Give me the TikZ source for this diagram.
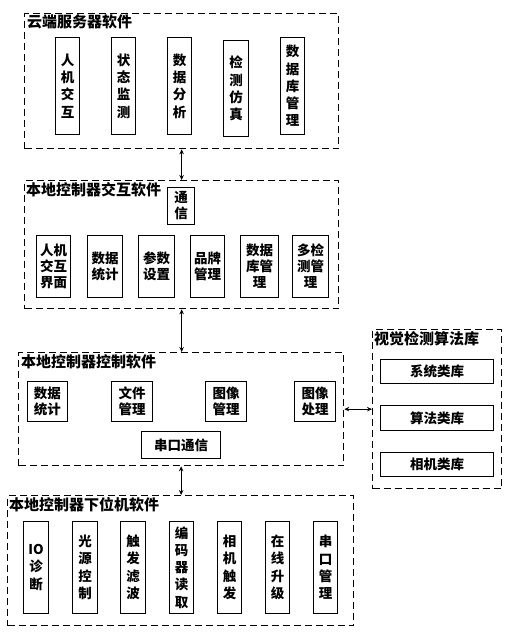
\documentclass[tikz,border=0pt]{standalone}
\usepackage{fontspec}
\setmainfont{Noto Sans CJK SC}
\usetikzlibrary{arrows.meta}
\tikzset{
  grp/.style={draw, line width=1.3pt, dash pattern=on 7pt off 4pt, inner sep=0pt, anchor=north west},
  gtitle/.style={anchor=north west, inner sep=0pt, font=\fontsize{15}{16}\selectfont\bfseries},
  bx/.style={draw, line width=1pt, inner sep=0pt, align=center, anchor=north west},
  vt/.style={font=\fontsize{13.5}{17.3}\selectfont\bfseries},
  ht/.style={font=\fontsize{13.5}{16}\selectfont\bfseries},
  link/.style={line width=1pt, {Stealth[length=5pt,width=4.5pt]}-{Stealth[length=5pt,width=4.5pt]}}
}
\newcommand\mybox[7]{\node[bx,#7, minimum width={(#4)-(#2)}, minimum height={(#5)-(#3)}] (#1) at (#2,#3) {#6};}
\newcommand\mygrp[5]{\node[grp, minimum width={(#4)-(#2)}, minimum height={(#5)-(#3)}] (#1) at (#2,#3) {};}
\begin{document}
\begin{tikzpicture}[x=1pt,y=-1pt]
\useasboundingbox (0,0) rectangle (511,638);
% group 1
\mygrp{g1}{24}{13}{338}{148}
\node[gtitle] (t1) at (27,14) {云端服务器软件};
\mybox{a1}{55}{37}{79}{134}{人\\机\\交\\互}{vt}
\mybox{a2}{111}{37}{135}{134}{状\\态\\监\\测}{vt}
\mybox{a3}{167}{37}{191}{134}{数\\据\\分\\析}{vt}
\mybox{a4}{223}{40}{248}{136}{检\\测\\仿\\真}{vt}
\mybox{a5}{280}{37}{304}{134}{数\\据\\库\\管\\理}{vt}
% group 2
\mygrp{g2}{24}{180}{338}{308}
\node[gtitle] (t2) at (26,182) {本地控制器交互软件};
\mybox{b0}{167}{187}{194}{224}{通\\信}{ht}
\mybox{b1}{36}{235}{70}{297}{人机\\交互\\界面}{ht}
\mybox{b2}{87}{235}{122}{297}{数据\\统计}{ht}
\mybox{b3}{138}{235}{174}{297}{参数\\设置}{ht}
\mybox{b4}{190}{235}{224}{297}{品牌\\管理}{ht}
\mybox{b5}{240}{235}{278}{297}{数据\\库管\\理}{ht}
\mybox{b6}{292}{235}{328}{297}{多检\\测管\\理}{ht}
% group 3
\mygrp{g3}{18}{352}{343}{465}
\node[gtitle] (t3) at (21,354) {本地控制器控制软件};
\mybox{c1}{27}{381}{67}{421}{数据\\统计}{ht}
\mybox{c2}{111}{381}{152}{421}{文件\\管理}{ht}
\mybox{c3}{205}{381}{246}{421}{图像\\管理}{ht}
\mybox{c4}{294}{381}{335}{421}{图像\\处理}{ht}
\mybox{c5}{141}{431}{220}{458}{串口通信}{ht}
% group 4
\mygrp{g4}{372}{329}{501}{488}
\node[gtitle] (t4) at (374,331) {视觉检测算法库};
\mybox{d1}{380}{359}{493}{383}{系统类库}{ht}
\mybox{d2}{380}{405}{493}{430}{算法类库}{ht}
\mybox{d3}{380}{452}{493}{476}{相机类库}{ht}
% group 5
\mygrp{g5}{7}{495}{353}{625}
\node[gtitle] (t5) at (9,497) {本地控制器下位机软件};
\mybox{e1}{23}{521}{48}{613}{IO\\诊\\断}{vt}
\mybox{e2}{72}{521}{97}{613}{光\\源\\控\\制}{vt}
\mybox{e3}{120}{521}{145}{613}{触\\发\\滤\\波}{vt}
\mybox{e4}{169}{521}{193}{613}{编\\码\\器\\读\\取}{vt}
\mybox{e5}{217}{521}{241}{613}{相\\机\\触\\发}{vt}
\mybox{e6}{265}{521}{289}{613}{在\\线\\升\\级}{vt}
\mybox{e7}{313}{521}{337}{613}{串\\口\\管\\理}{vt}
% connectors
\draw[link] (g1.south) -- (g2.north);
\draw[link] (g2.south) -- (g2.south |- g3.north);
\draw[link] (g3.south) -- (g3.south |- g5.north);
\draw[link] (g3.east) -- (g3.east -| g4.west);
\end{tikzpicture}
\end{document}
